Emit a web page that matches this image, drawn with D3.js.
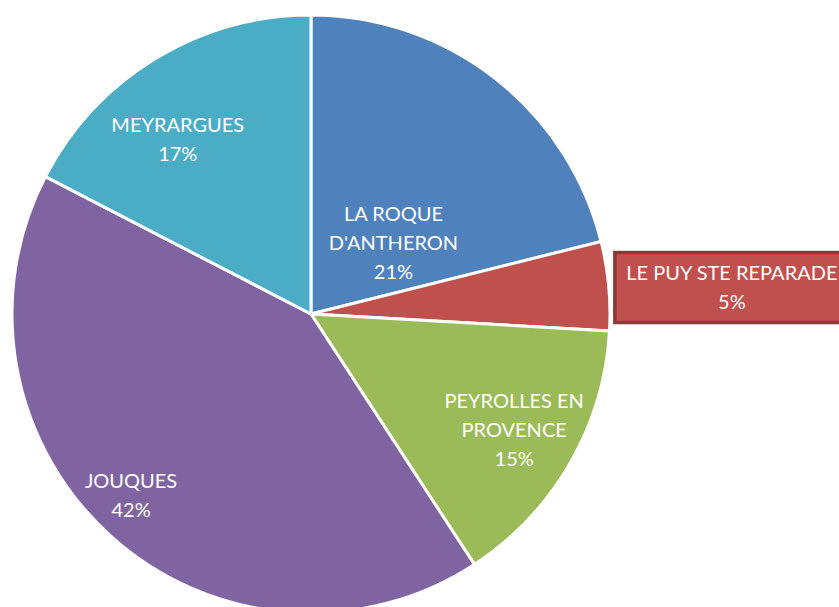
<!DOCTYPE html>
<html>
<head>
<meta charset="utf-8">
<script src="https://cdn.jsdelivr.net/npm/d3@7"></script>
<style>
  html, body { margin: 0; padding: 0; background: #fff; overflow: hidden; }
  svg { display: block; }
  text { font-family: Lato, "Open Sans", sans-serif; font-size: 20px; fill: #fff; }
</style>
</head>
<body>
<div id="chart"></div>
<script>
// slice names (clockwise from 12 o'clock) and their shares in percent
const communes = ['LA ROQUE D\'ANTHERON', 'LE PUY STE REPARADE', 'PEYROLLES EN PROVENCE', 'JOUQUES', 'MEYRARGUES'];
const shares = [21.1, 4.8, 14.9, 41.8, 17.4];
const colours = ['#4f81bd', '#c0504d', '#9bbb59', '#8064a2', '#4bacc6'];
// how each label wraps, as Excel shows it
const labelLines = [
  ['LA ROQUE', 'D\'ANTHERON'],
  ['LE PUY STE REPARADE'],
  ['PEYROLLES EN', 'PROVENCE'],
  ['JOUQUES'],
  ['MEYRARGUES']
];

const width = 839, height = 607;
const cx = 311, cy = 314, radius = 299;

const total = d3.sum(shares);
const data = communes.map((name, i) => ({ name, value: shares[i], colour: colours[i], lines: labelLines[i] }));

const svg = d3.select('#chart').append('svg')
  .attr('width', width)
  .attr('height', height);

const g = svg.append('g').attr('transform', `translate(${cx},${cy})`);

const pie = d3.pie().value(d => d.value).sort(null);
const arc = d3.arc().innerRadius(0).outerRadius(radius);

const arcs = pie(data);

g.selectAll('path.slice')
  .data(arcs)
  .enter()
  .append('path')
  .attr('class', 'slice')
  .attr('d', arc)
  .attr('fill', d => d.data.colour)
  .attr('stroke', '#fff')
  .attr('stroke-width', 3)
  .attr('stroke-linejoin', 'miter');

/* label placement: polar spot (fraction of radius) with a small angle nudge,
   LE PUY sits outside in a framed box like the original */
const labelPlace = [
  { r: 0.36, da: 0.21 },
  { r: 1.41, da: 0.035 },
  { r: 0.785, da: 0.00 },
  { r: 0.86, da: 0.04 },
  { r: 0.73, da: -0.11 }
];
const lineH = 29;

const labels = g.selectAll('g.label')
  .data(arcs)
  .enter()
  .append('g')
  .attr('class', 'label')
  .attr('transform', (d, i) => {
    const a = (d.startAngle + d.endAngle) / 2 + labelPlace[i].da;
    const r = radius * labelPlace[i].r;
    return `translate(${r * Math.sin(a)},${-r * Math.cos(a)})`;
  });

labels.each(function(d, i) {
  const sel = d3.select(this);
  const pct = d3.format('.0f')(d.data.value / total * 100) + '%';
  const lines = d.data.lines.concat([pct]);
  const top = -(lines.length - 1) * lineH / 2;
  if (i === 1) {
    sel.append('rect')
      .attr('x', -117).attr('y', top - 22)
      .attr('width', 240).attr('height', lineH * lines.length + 12)
      .attr('fill', '#c0504d')
      .attr('stroke', '#8c3836')
      .attr('stroke-width', 3.5);
  }
  lines.forEach((t, k) => {
    sel.append('text')
      .attr('text-anchor', 'middle')
      .attr('y', top + k * lineH + 5)
      .text(t);
  });
});
</script>
</body>
</html>
